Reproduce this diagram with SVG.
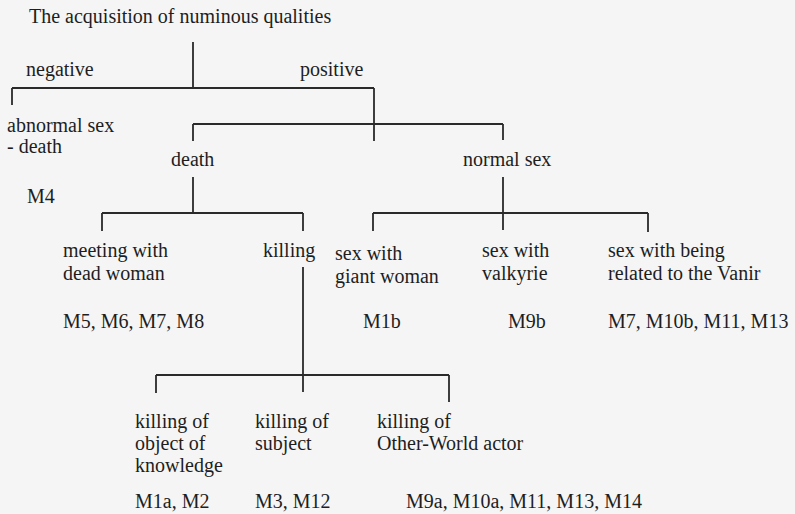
<svg xmlns="http://www.w3.org/2000/svg" width="795" height="514" viewBox="0 0 795 514">
<style>
text{font-family:"Liberation Serif","Times New Roman",serif;font-size:20px;fill:#1e1e1e}
.c line{stroke:#2a2a2a;stroke-width:1.8;fill:none}
</style>
<rect width="795" height="514" fill="#f5f5f5"/>
<g class="c" id="connectors">
<line x1="193" y1="42" x2="193" y2="88"/>
<line x1="12" y1="88" x2="374" y2="88"/>
<line x1="12" y1="88" x2="12" y2="105"/>
<line x1="374" y1="88" x2="374" y2="141"/>
<line x1="193" y1="124" x2="503" y2="124"/>
<line x1="193" y1="124" x2="193" y2="141"/>
<line x1="503" y1="124" x2="503" y2="140"/>
<line x1="193" y1="177" x2="193" y2="213"/>
<line x1="102" y1="213" x2="303" y2="213"/>
<line x1="102" y1="213" x2="102" y2="231"/>
<line x1="303" y1="213" x2="303" y2="231"/>
<line x1="503" y1="177" x2="503" y2="230"/>
<line x1="373" y1="213" x2="648" y2="213"/>
<line x1="373" y1="213" x2="373" y2="231"/>
<line x1="648" y1="213" x2="648" y2="232"/>
<line x1="303" y1="267" x2="303" y2="392"/>
<line x1="156" y1="375" x2="449" y2="375"/>
<line x1="156" y1="375" x2="156" y2="393"/>
<line x1="449" y1="375" x2="449" y2="402"/>
</g>
<g id="root"><text x="29" y="23">The acquisition of numinous qualities</text></g>
<g id="negative"><text x="26" y="76">negative</text></g>
<g id="positive"><text x="300" y="76">positive</text></g>
<g id="abnormal"><text x="7" y="132">abnormal sex</text><text x="7" y="153">- death</text><text x="27" y="203">M4</text></g>
<g id="death"><text x="171" y="166">death</text></g>
<g id="normal"><text x="463" y="166">normal sex</text></g>
<g id="meeting"><text x="63" y="257">meeting with</text><text x="63" y="280">dead woman</text><text x="63" y="328">M5, M6, M7, M8</text></g>
<g id="killing"><text x="263" y="257">killing</text></g>
<g id="giant"><text x="335" y="260">sex with</text><text x="335" y="283">giant woman</text><text x="363" y="328">M1b</text></g>
<g id="valkyrie"><text x="482" y="257">sex with</text><text x="482" y="280">valkyrie</text><text x="508" y="328">M9b</text></g>
<g id="vanir"><text x="608" y="257">sex with being</text><text x="608" y="280">related to the Vanir</text><text x="608" y="328">M7, M10b, M11, M13</text></g>
<g id="k-object"><text x="135" y="428">killing of</text><text x="135" y="450">object of</text><text x="135" y="472">knowledge</text><text x="135" y="508">M1a, M2</text></g>
<g id="k-subject"><text x="255" y="428">killing of</text><text x="255" y="450">subject</text><text x="255" y="508">M3, M12</text></g>
<g id="k-other"><text x="377" y="428">killing of</text><text x="377" y="450">Other-World actor</text><text x="406" y="508">M9a, M10a, M11, M13, M14</text></g>
</svg>
